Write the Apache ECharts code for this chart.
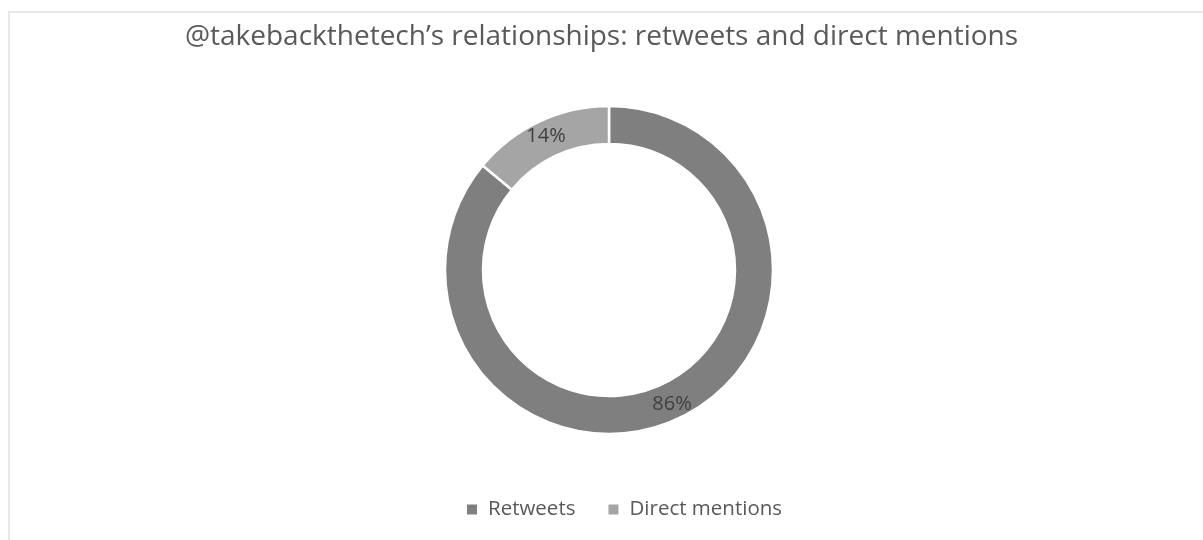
<!DOCTYPE html>
<html>
<head>
<meta charset="utf-8">
<script src="https://cdn.jsdelivr.net/npm/echarts@6/dist/echarts.min.js"></script>
<style>
html,body{margin:0;padding:0;background:#fff;}
#frame{position:absolute;left:8px;top:11px;width:1195px;height:529px;border-top:2px solid #e8e8e8;border-left:2px solid #e8e8e8;box-sizing:border-box;}
#chart{position:absolute;left:0;top:0;width:1203px;height:540px;}
</style>
</head>
<body>
<div id="frame"></div>
<div id="chart"></div>
<script>
const titleText = "@takebackthetech\u2019s relationships: retweets and direct mentions";
const categories = ["Retweets", "Direct mentions"];
const values = [86, 14];
const colors = ["#7f7f7f", "#a5a5a5"];

const chart = echarts.init(document.getElementById('chart'));
chart.setOption({
  backgroundColor: 'transparent',
  title: {
    text: titleText,
    left: 'center',
    top: 18,
    textStyle: { color: '#595959', fontSize: 28, fontWeight: 'normal', fontFamily: 'Open Sans' }
  },
  legend: {
    data: categories,
    top: 494,
    left: 460,
    itemWidth: 12,
    itemHeight: 12,
    itemGap: 31,
    icon: 'rect',
    textStyle: { color: '#595959', fontSize: 20.5, fontFamily: 'Open Sans', padding: [0, 0, 0, 5] }
  },
  series: [{
    type: 'pie',
    center: [609, 270],
    radius: [126, 164],
    startAngle: 90,
    clockwise: true,
    avoidLabelOverlap: false,
    silent: true,
    itemStyle: { borderColor: '#fff', borderWidth: 2.5 },
    label: {
      show: true,
      position: 'inside',
      formatter: '{d}%',
      color: '#404040',
      fontSize: 20,
      fontFamily: 'Open Sans'
    },
    labelLine: { show: false },
    data: categories.map((c, i) => ({ name: c, value: values[i], itemStyle: { color: colors[i] } }))
  }]
});
</script>
</body>
</html>
